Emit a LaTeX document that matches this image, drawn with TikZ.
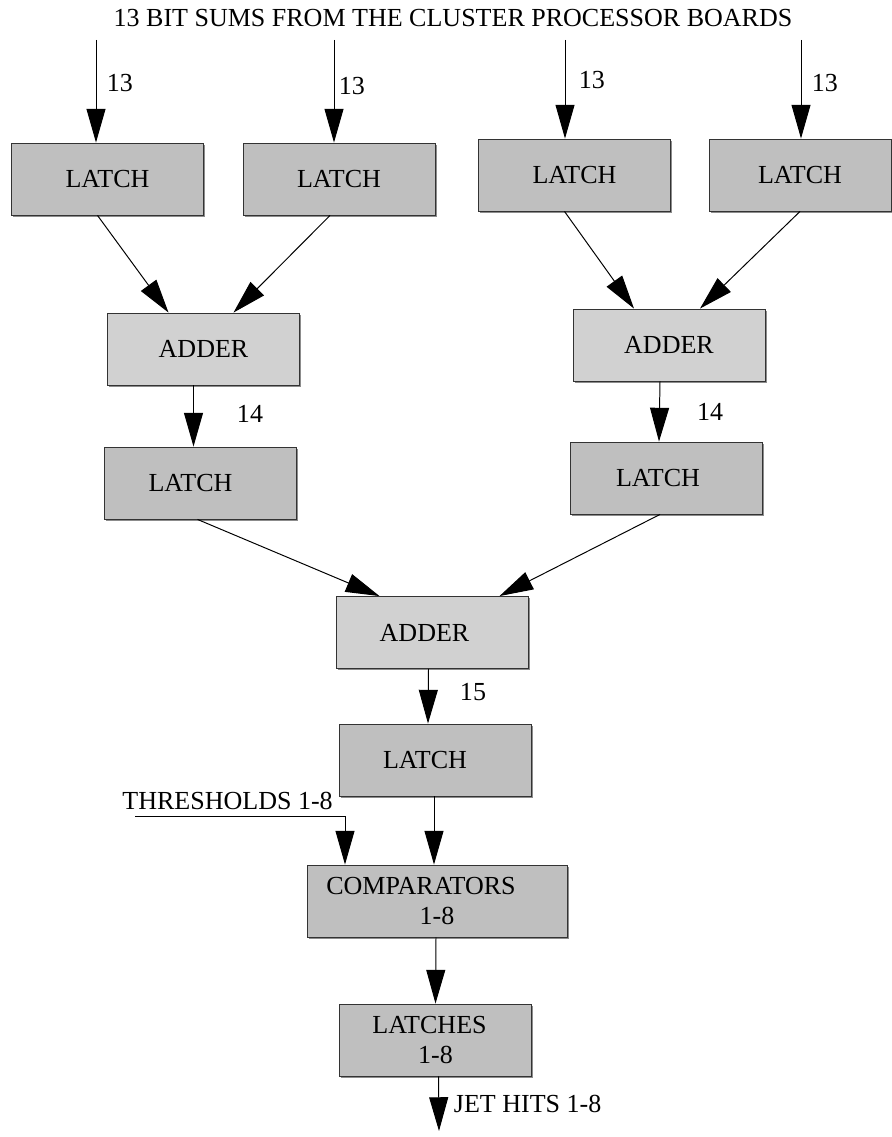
\documentclass[tikz,border=0pt]{standalone}
\usepackage{fontspec}
\setmainfont{Liberation Serif}
\usetikzlibrary{arrows.meta,calc,shadows}

\begin{document}
\begin{tikzpicture}[x=0.025cm,y=-0.025cm,
    font=\fontsize{18.5}{21}\selectfont,
    blk/.style={draw=black!80,line width=0.6pt,minimum height=1.8cm,
      drop shadow={shadow xshift=1.2pt,shadow yshift=-1.2pt,fill=black!45,opacity=1}},
    latch/.style={blk,fill=black!25,minimum width=4.8cm},
    adder/.style={blk,fill=black!18,minimum width=4.8cm},
    arr/.style={line width=0.7pt,-{Triangle[length=24pt,width=13.5pt]}}]
  \useasboundingbox (0,0) rectangle (892,1137);
  \node (title) at (453,18) {13 BIT SUMS FROM THE CLUSTER PROCESSOR BOARDS};

  % first stage latches
  \node[latch] (l1) at (107.5,179) {LATCH};
  \node[latch] (l2) at (339,179) {LATCH};
  \node[latch] (l3) at (574.5,175) {LATCH};
  \node[latch,minimum width=4.55cm] (l4) at (800,175) {LATCH};
  \foreach \i/\x/\lx/\ly in {1/96/102/83,2/334/334/86,3/565/574/80,4/801/807/83} {
    \coordinate (in\i) at (\x,40);
    \draw[arr] (in\i) -- (in\i |- l\i.north);
    \node[anchor=west] (n\i) at (\lx,\ly) {13};
  }

  % adders and second stage latches
  \node[adder] (a1) at (203.5,349) {ADDER};
  \node[adder] (a2) at (669,345) {ADDER};
  \draw[arr] ($(l1.south)+(-10,0)$) -- ($(a1.north)+(-35,0)$);
  \draw[arr] ($(l2.south)+(-9,0)$) -- ($(a1.north)+(30,0)$);
  \draw[arr] ($(l3.south)+(-10,0)$) -- ($(a2.north)+(-35,0)$);
  \draw[arr] ($(l4.south)+(0,0)$) -- ($(a2.north)+(31,0)$);

  \node[latch] (l5) at (200.5,483) {LATCH\hspace*{0.5cm}};
  \node[latch] (l6) at (666,478) {LATCH\hspace*{0.4cm}};
  \draw[arr] ($(a1.south)+(-10,0)$) -- ($(l5.north)+(-7,0)$);
  \draw[arr] ($(a2.south)+(-9,0)$) -- ($(l6.north)+(-7,0)$);
  \node (n5) at (250,414) {14};
  \node (n6) at (710,412) {14};

  % final adder
  \node[adder] (a3) at (432.5,632.5) {ADDER\hspace*{0.4cm}};
  \draw[arr] ($(l5.south)+(-3,0)$) -- ($(a3.north)+(-53,0)$);
  \draw[arr] ($(l6.south)+(-6,0)$) -- ($(a3.north)+(67,0)$);
  \node[latch] (l7) at (435,760) {LATCH\hspace*{0.5cm}};
  \draw[arr] ($(a3.south)+(-4,0)$) -- ($(l7.north)+(-7,0)$);
  \node (n7) at (473,692) {15};

  % comparison against thresholds
  \node[latch,minimum width=6.5cm,align=center] (cmp) at (437,901)
    {COMPARATORS\hspace*{0.8cm}\\1-8};
  \draw[arr] ($(l7.south)+(-1,0)$) -- ($(cmp.north)+(-3,0)$);
  \node[anchor=east,inner sep=0pt] (thr) at (333,801) {THRESHOLDS 1-8};
  \coordinate (t0) at (135,816);
  \draw[arr] (t0) -| ($(cmp.north)+(-92,0)$);

  \node[latch,align=center] (lts) at (435.5,1040) {LATCHES\hspace*{0.3cm}\\1-8};
  \draw[arr] ($(cmp.south)+(-1,0)$) -- ($(lts.north)+(0,0)$);
  \coordinate (out) at (439,1131);
  \draw[arr] ($(lts.south)+(3,0)$) -- (out);
  \node[anchor=west] (hits) at (449,1104) {JET HITS 1-8};
\end{tikzpicture}
\end{document}
